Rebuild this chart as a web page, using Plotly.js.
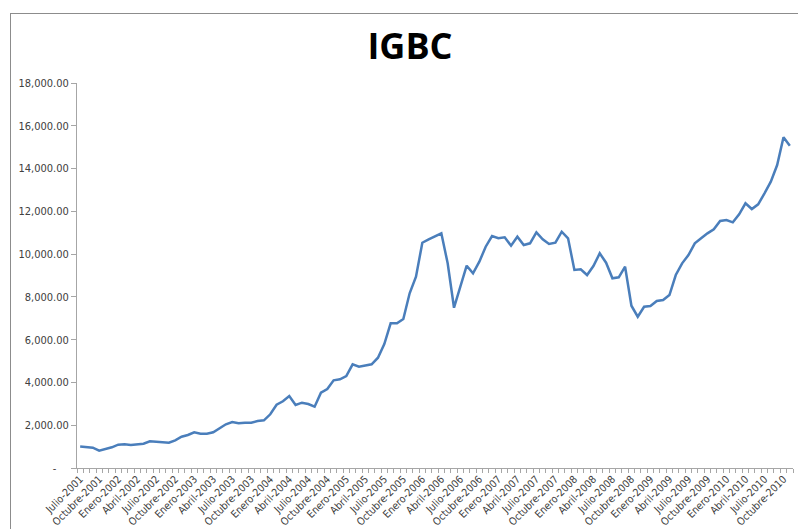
<!DOCTYPE html>
<html>
<head>
<meta charset="utf-8">
<script src="https://cdn.plot.ly/plotly-3.0.1.min.js"></script>
<style>
  html, body { margin:0; padding:0; width:798px; height:529px; overflow:hidden; background:#fff; }
  #chart { position:absolute; left:0; top:0; width:798px; height:529px; }
  #frame { position:absolute; left:10px; top:13px; width:900px; height:600px; border:1px solid #8c8c8c; pointer-events:none; }
</style>
</head>
<body>
<div id="chart"></div>
<div id="frame"></div>
<script>
const categories = [
  "Julio-2001","Agosto-2001","Septiembre-2001","Octubre-2001","Noviembre-2001","Diciembre-2001",
  "Enero-2002","Febrero-2002","Marzo-2002","Abril-2002","Mayo-2002","Junio-2002","Julio-2002","Agosto-2002","Septiembre-2002","Octubre-2002","Noviembre-2002","Diciembre-2002",
  "Enero-2003","Febrero-2003","Marzo-2003","Abril-2003","Mayo-2003","Junio-2003","Julio-2003","Agosto-2003","Septiembre-2003","Octubre-2003","Noviembre-2003","Diciembre-2003",
  "Enero-2004","Febrero-2004","Marzo-2004","Abril-2004","Mayo-2004","Junio-2004","Julio-2004","Agosto-2004","Septiembre-2004","Octubre-2004","Noviembre-2004","Diciembre-2004",
  "Enero-2005","Febrero-2005","Marzo-2005","Abril-2005","Mayo-2005","Junio-2005","Julio-2005","Agosto-2005","Septiembre-2005","Octubre-2005","Noviembre-2005","Diciembre-2005",
  "Enero-2006","Febrero-2006","Marzo-2006","Abril-2006","Mayo-2006","Junio-2006","Julio-2006","Agosto-2006","Septiembre-2006","Octubre-2006","Noviembre-2006","Diciembre-2006",
  "Enero-2007","Febrero-2007","Marzo-2007","Abril-2007","Mayo-2007","Junio-2007","Julio-2007","Agosto-2007","Septiembre-2007","Octubre-2007","Noviembre-2007","Diciembre-2007",
  "Enero-2008","Febrero-2008","Marzo-2008","Abril-2008","Mayo-2008","Junio-2008","Julio-2008","Agosto-2008","Septiembre-2008","Octubre-2008","Noviembre-2008","Diciembre-2008",
  "Enero-2009","Febrero-2009","Marzo-2009","Abril-2009","Mayo-2009","Junio-2009","Julio-2009","Agosto-2009","Septiembre-2009","Octubre-2009","Noviembre-2009","Diciembre-2009",
  "Enero-2010","Febrero-2010","Marzo-2010","Abril-2010","Mayo-2010","Junio-2010","Julio-2010","Agosto-2010","Septiembre-2010","Octubre-2010","Noviembre-2010"
];

const igbcValues = [
  1000, 968, 950, 810, 888, 968,
  1090, 1107, 1075, 1107, 1136, 1248, 1215, 1183, 1183, 1295, 1464, 1543,
  1669, 1604, 1604, 1669, 1837, 2043, 2150, 2088, 2119, 2119, 2197, 2228,
  2510, 2960, 3118, 3366, 2945, 3053, 2992, 2866, 3520, 3693, 4100, 4147,
  4301, 4848, 4736, 4783, 4848, 5157, 5797, 6765, 6765, 6966, 8167, 8943,
  10533, 10692, 10846, 10972, 9570, 7494, 8476, 9458, 9102, 9645, 10346, 10846,
  10739, 10785, 10393, 10813, 10425, 10505, 11019, 10692, 10472, 10533, 11047, 10739,
  9257, 9289, 9023, 9444, 10036, 9598, 8868, 8915, 9411, 7588, 7073, 7541,
  7574, 7807, 7854, 8088, 9023, 9570, 9958, 10505, 10739, 10972, 11159, 11547,
  11594, 11486, 11860, 12375, 12108, 12328, 12842, 13385, 14165, 15460, 15068
];

const yTickValues = [0, 2000, 4000, 6000, 8000, 10000, 12000, 14000, 16000, 18000];
const yTickLabels = ["-\u00a0\u00a0\u00a0\u00a0", "2,000.00", "4,000.00", "6,000.00", "8,000.00", "10,000.00", "12,000.00", "14,000.00", "16,000.00", "18,000.00"];

// x labels shown on every third category, starting with the first
const xTickLabels = categories.map((c, i) => (i % 3 === 0 ? c : ""));

const fontFam = "'Liberation Sans Narrow', 'Arial Narrow', 'DejaVu Sans Condensed', sans-serif";

const trace = {
  type: "scatter",
  mode: "lines",
  x: categories,
  y: igbcValues,
  line: { color: "#4A7EBB", width: 2.5 },
  hoverinfo: "x+y"
};

const layout = {
  width: 798,
  height: 529,
  margin: { l: 77, r: 5, t: 83, b: 61, pad: 0 },
  paper_bgcolor: "#ffffff",
  plot_bgcolor: "#ffffff",
  showlegend: false,
  title: {
    text: "<b>IGBC</b>",
    font: { family: "'Liberation Sans Narrow', 'Open Sans', sans-serif", size: 36, color: "#000000" },
    x: 410 / 798, xref: "container", xanchor: "center",
    y: 1 - 46 / 529, yref: "container", yanchor: "middle"
  },
  xaxis: {
    type: "category",
    range: [-0.5, categories.length - 0.5],
    tickmode: "array",
    tickvals: categories,
    ticktext: xTickLabels,
    tickson: "boundaries",
    ticks: "outside",
    ticklen: 4,
    tickwidth: 1,
    tickcolor: "#a6a6a6",
    tickangle: -45,
    tickfont: { family: fontFam, size: 10.5, color: "#404040" },
    showline: true,
    linecolor: "#a6a6a6",
    linewidth: 1,
    showgrid: false,
    zeroline: false,
    automargin: false,
    fixedrange: true
  },
  yaxis: {
    range: [0, 18000],
    tickmode: "array",
    tickvals: yTickValues,
    ticktext: yTickLabels,
    ticks: "outside",
    ticklen: 5,
    tickwidth: 1,
    tickcolor: "#a6a6a6",
    tickfont: { family: fontFam, size: 11, color: "#404040" },
    showline: true,
    linecolor: "#a6a6a6",
    linewidth: 1,
    showgrid: false,
    zeroline: false,
    automargin: false,
    fixedrange: true
  }
};

Plotly.newPlot("chart", [trace], layout, { displayModeBar: false, staticPlot: true });
</script>
</body>
</html>
